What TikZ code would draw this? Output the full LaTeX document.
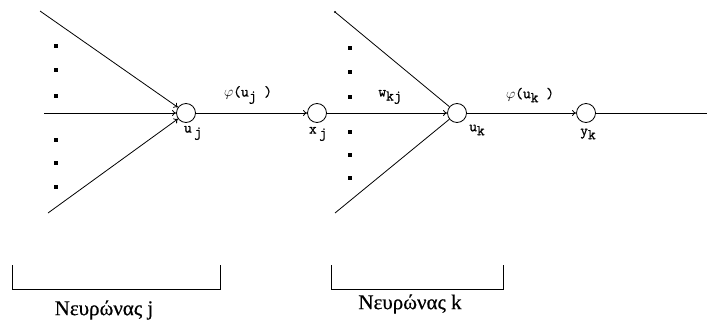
\documentclass[tikz,border=0pt]{standalone}
\usepackage{fontspec}
\setmainfont{Liberation Serif}
\newfontfamily\grkfont[FakeBold=0.6]{Liberation Serif}
\newfontfamily\labfont[FakeBold=0.8]{Latin Modern Mono}
\usetikzlibrary{arrows.meta}
\begin{document}
\begin{tikzpicture}[x=1pt,y=-1pt,
  neuron/.style={circle,draw,line width=0.8pt,minimum size=19pt,inner sep=0pt},
  conn/.style={line width=0.8pt},
  arr/.style={line width=0.8pt,-{To[length=4pt,width=6pt]}},
  dotmark/.style={fill=black,minimum size=3.5pt,inner sep=0pt,draw=none,rectangle},
  lab/.style={font=\labfont\fontsize{15}{15}\selectfont,inner sep=0pt},
  grk/.style={font=\grkfont\fontsize{21}{21}\selectfont,inner sep=0pt},
  brk/.style={line width=0.8pt}]
\useasboundingbox (0,0) rectangle (708,324);
% neurons
\node[neuron] (uj) at (186,113) {};
\node[neuron] (xj) at (317,113) {};
\node[neuron] (uk) at (457,113) {};
\node[neuron] (yk) at (586,113) {};
% inputs of neuron j
\coordinate (ja) at (40,11);
\coordinate (jb) at (44,113);
\coordinate (jc) at (48,213);
\draw[arr] (ja) -- (uj);
\draw[arr] (jb) -- (uj);
\draw[arr] (jc) -- (uj);
% inputs of neuron k
\coordinate (ka) at (335,12);
\coordinate (kc) at (335,213);
\fill (ka) circle (1.2pt);
\draw[conn] (ka) -- (uk);
\draw[conn] (kc) -- (uk);
% chain
\draw[arr] (uj) -- (xj);
\draw[arr] (xj) -- (uk);
\draw[arr] (uk) -- (yk);
\coordinate (out) at (707,113);
\draw[conn] (yk) -- (out);
% dots
\foreach \y [count=\i] in {46,70,96,140,163,187} \node[dotmark] (dj\i) at (56,\y) {};
\foreach \y [count=\i] in {48,72,97,132,155,178} \node[dotmark] (dk\i) at (350,\y) {};
% labels
\newcommand{\sbj}[1]{\raisebox{-4pt}{#1}}
\newcommand{\phichar}{$\varphi$}
\node[lab] (lphij) at (248,95) {\phichar(u\sbj{j} )};
\node[lab] (luj) at (193,133) {u\,\sbj{j}};
\node[lab] (lxj) at (318,134) {x\,\sbj{j}};
\node[lab] (lwkj) at (390,97) {w\sbj{kj}};
\node[lab] (luk) at (477,130) {u\sbj{k}};
\node[lab] (lphik) at (530,95) {\phichar(u\sbj{k} )};
\node[lab] (lyk) at (588,134) {y\sbj{k}};
% brackets
\draw[brk] (12,265) -- (12,289) -- (220,289) -- (220,265);
\draw[brk] (331,265) -- (331,289) -- (503,289) -- (503,265);
\node[grk] (nj) at (104,310) {Νευρώνας j};
\node[grk] (nk) at (410,304) {Νευρώνας k};
\end{tikzpicture}
\end{document}
